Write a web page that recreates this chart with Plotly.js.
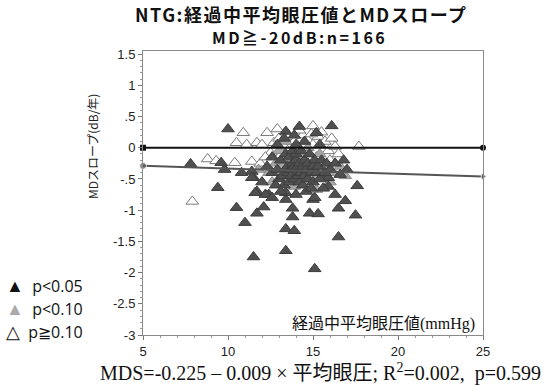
<!DOCTYPE html>
<html><head><meta charset="utf-8">
<script src="https://cdn.plot.ly/plotly-3.0.1.min.js"></script>
<style>body{margin:0;background:#fff}#c{width:545px;height:388px}</style>
</head><body><div id="c"></div>
<script>
// p<0.05 (dark)
const sigX = [10.0,7.8,9.4,10.5,11.7,12.1,11.7,9.8,11.4,11.5,11.0,11.5,13.8,13.8,13.4,13.9,13.4,14.8,15.3,15.1,16.5,16.9,17.5,16.5,13.4,15.0,16.1,14.2,15.2,13.4,17.6,15.9,15.1,12.4,13.4,15.6,15.9,16.6,10.8,11.4,12.0,12.6,12.2,11.6,12.6,16.3,9.6,
  12.6,12.9,13.0,13.1,13.2,13.3,13.4,13.5,13.5,13.6,13.6,13.7,13.7,13.8,13.8,13.9,13.9,14.0,14.0,14.1,14.1,14.2,14.2,14.3,14.3,14.4,14.4,14.5,14.5,14.6,14.7,14.7,14.8,14.9,15.0,15.0,15.1,15.2,15.3,15.4,15.5,15.7,15.8,16.0,16.3,16.8,17.0,12.8,13.3,13.9,14.5,15.4,12.9,14.0,13.1,14.6,14.0,12.3,15.6,14.9];
const sigY = [0.30,-0.26,-0.64,-0.96,-1.05,-0.95,-0.70,-0.35,-0.38,-0.48,-1.20,-1.75,-0.97,-1.11,-1.30,-1.33,-1.65,-1.05,-1.06,-1.94,-0.97,-0.85,-1.08,-1.43,-0.83,-0.83,0.35,0.34,0.24,0.26,-0.61,-0.62,-0.80,-0.75,-0.72,-0.48,-0.48,-0.43,-0.40,-0.48,-0.55,-0.40,-0.75,-0.72,-0.80,-0.75,-0.24,
  -0.15,-0.35,-0.50,-0.20,-0.45,-0.60,-0.10,-0.30,-0.40,-0.55,-0.15,-0.35,-0.45,-0.25,-0.05,-0.50,-0.30,-0.20,-0.10,-0.45,-0.30,-0.55,-0.25,-0.40,-0.05,-0.30,-0.60,-0.20,-0.45,-0.35,-0.50,-0.25,-0.10,-0.40,-0.30,-0.55,-0.20,-0.40,-0.30,-0.50,-0.20,-0.40,-0.25,-0.35,-0.25,-0.20,-0.35,-0.60,0.15,0.20,0.10,0.05,0.05,0.05,-0.70,-0.70,-0.75,-0.30,-0.65,-0.65];
// p<0.10 (gray)
const midX = [12.8,13.2,13.7,14.0,14.3,14.8,15.1,15.2,15.6,16.2,16.6,12.4,13.5,14.5,13.0,14.7,16.9,11.8,15.4,13.9,14.2,16.0,12.6,15.9,13.4];
const midY = [-0.25,-0.30,-0.20,-0.40,-0.15,-0.30,-0.45,-0.67,-0.35,-0.40,-0.30,-0.40,-0.50,-0.55,-0.05,0.00,-0.45,-0.35,-0.10,-0.62,-0.35,-0.55,-0.55,-0.30,0.10];
// p>=0.10 (open)
const nsX = [7.9,8.8,9.3,10.4,11.4,10.5,10.9,11.1,11.7,12.0,12.3,12.7,13.0,13.3,13.6,13.9,14.1,14.4,14.7,15.0,15.0,15.3,15.5,15.7,15.9,16.1,16.3,17.7,12.5,13.1,14.6,15.2,16.0,12.9,14.2,11.9,13.5,16.5,14.9,12.2];
const nsY = [-0.86,-0.18,-0.21,-0.24,-0.22,0.08,0.24,0.05,0.08,0.05,0.24,0.08,0.15,0.02,0.18,0.10,-0.02,0.20,0.12,0.35,0.05,0.18,0.25,0.10,-0.05,0.15,0.02,0.02,-0.08,-0.12,-0.10,-0.15,-0.20,0.30,0.28,-0.25,-0.05,-0.10,0.22,-0.15];
// reference line and regression line endpoints
const zeroX = [5, 25], zeroY = [0, 0];
const regX = [5, 25], regY = [-0.29, -0.46];
const yTickVals = [1.5,1,0.5,0,-0.5,-1,-1.5,-2,-2.5,-3];
const yTickText = ['1.5','1','.5','0','-.5','-1','-1.5','-2','-2.5','-3'];
const xTickVals = [5,10,15,20,25];

const tri = (c, lc) => ({symbol:'triangle-up', size:11, color:c, line:{color:lc, width:1}});
const traces = [
  {x:nsX, y:nsY, mode:'markers', type:'scatter', marker:tri('#ffffff','#7a7a7a'), hoverinfo:'skip'},
  {x:midX, y:midY, mode:'markers', type:'scatter', marker:tri('#a6a6a6','#8c8c8c'), hoverinfo:'skip'},
  {x:sigX, y:sigY, mode:'markers', type:'scatter', marker:tri('#505050','#3c3c3c'), hoverinfo:'skip'},
  {x:zeroX, y:zeroY, mode:'lines+markers', type:'scatter', cliponaxis:false, line:{color:'#111', width:2.2},
   marker:{symbol:['square','circle'], size:6, color:'#111'}, hoverinfo:'skip'},
  {x:regX, y:regY, mode:'lines+markers', type:'scatter', cliponaxis:false, line:{color:'#555', width:2},
   marker:{symbol:['circle','triangle-right'], size:[7,7], color:'#555'}, hoverinfo:'skip'}
];
const jp = '"Noto Sans CJK JP", sans-serif';
const P = (px) => (335 - px) / 284;   // helper: pixel row -> paper y
const Q = (px) => (px - 143) / 340;   // helper: pixel col -> paper x
const layout = {
  width:545, height:388, showlegend:false,
  paper_bgcolor:'#fff', plot_bgcolor:'#fff',
  margin:{l:143, r:62, t:51, b:53},
  font:{family:'"Liberation Sans", Arial, sans-serif', size:13, color:'#222'},
  xaxis:{range:[5,25], tickvals:xTickVals, ticks:'outside', ticklen:4, tickcolor:'#777',
    showgrid:false, zeroline:false, showline:true, linecolor:'#8a8a8a', linewidth:1, mirror:true,
    tickfont:{size:13, color:'#222'}, minor:{ticks:'outside', ticklen:2, dtick:1, tickcolor:'#999'}},
  yaxis:{range:[-3,1.55], tickvals:yTickVals, ticktext:yTickText, ticks:'outside', ticklen:4, tickcolor:'#777',
    showgrid:false, zeroline:false, showline:true, linecolor:'#8a8a8a', linewidth:1, mirror:true,
    tickfont:{size:13, color:'#222'}, minor:{ticks:'outside', ticklen:2, dtick:0.1, tickcolor:'#999'}},
  annotations:[
    {xref:'paper', yref:'paper', x:Q(301), y:P(14), xanchor:'center', yanchor:'middle', showarrow:false,
     text:'<b><span style="letter-spacing:1.5px">NTG:経過中平均眼圧値とMDスロープ</span></b>', font:{family:jp, size:18, color:'#111'}},
    {xref:'paper', yref:'paper', x:Q(299), y:P(37), xanchor:'center', yanchor:'middle', showarrow:false,
     text:'<b><span style="letter-spacing:2.5px">MD≧-20dB:n=166</span></b>', font:{family:jp, size:16, color:'#111'}},
    {xref:'paper', yref:'paper', x:Q(92), y:P(147), xanchor:'center', yanchor:'middle', showarrow:false, textangle:-90,
     text:'MDスロープ(dB/年)', font:{family:jp, size:12, color:'#222'}},
    {xref:'paper', yref:'paper', x:Q(477), y:P(322), xanchor:'right', yanchor:'middle', showarrow:false,
     text:'経過中平均眼圧値<span style="font-family:\'Liberation Serif\'">(mmHg)</span>', font:{family:jp, size:16, color:'#111'}},
    {xref:'paper', yref:'paper', x:Q(320), y:P(372), xanchor:'center', yanchor:'middle', showarrow:false,
     text:'MDS=-0.225 – 0.009 × 平均眼圧; R<sup>2</sup>=0.002,  p=0.599',
     font:{family:'"Liberation Serif", "Noto Sans CJK JP", serif', size:20, color:'#111'}},
    {xref:'paper', yref:'paper', x:Q(4), y:P(285), xanchor:'left', yanchor:'middle', showarrow:false,
     text:'<span style="color:#111;font-size:18px">▲</span>&nbsp;&nbsp;p&lt;0.05', font:{family:'"Open Sans", sans-serif', size:16, color:'#111'}},
    {xref:'paper', yref:'paper', x:Q(4), y:P(308), xanchor:'left', yanchor:'middle', showarrow:false,
     text:'<span style="color:#aaa;font-size:18px">▲</span>&nbsp;&nbsp;p&lt;0.10', font:{family:'"Open Sans", sans-serif', size:16, color:'#111'}},
    {xref:'paper', yref:'paper', x:Q(4), y:P(331), xanchor:'left', yanchor:'middle', showarrow:false,
     text:'<span style="font-size:18px">△</span>&nbsp;&nbsp;p≧0.10', font:{family:'"Open Sans", sans-serif', size:16, color:'#111'}}
  ]
};
Plotly.newPlot('c', traces, layout, {displayModeBar:false, staticPlot:true});
</script></body></html>
